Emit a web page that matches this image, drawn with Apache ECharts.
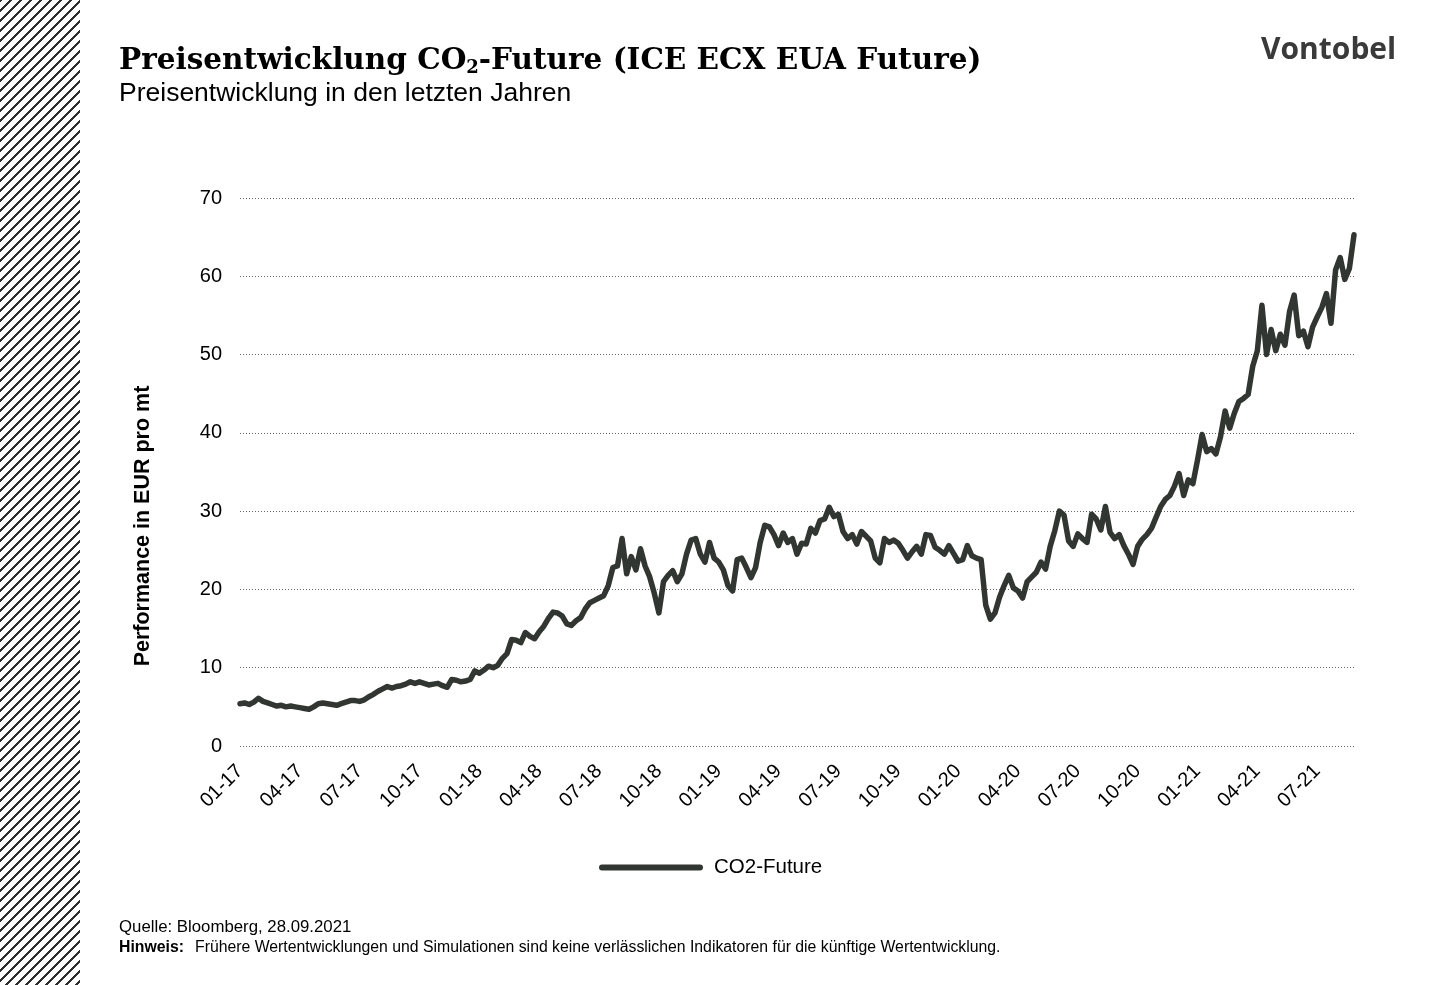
<!DOCTYPE html>
<html>
<head>
<meta charset="utf-8">
<script src="https://cdn.jsdelivr.net/npm/echarts@6/dist/echarts.min.js"></script>
<style>
  html, body { margin: 0; padding: 0; background: #fff; }
  #stripe { position: absolute; left: 0; top: 0; width: 80px; height: 985px;
    background: repeating-linear-gradient(135deg, #2e2e2e 0px, #2e2e2e 1.6px, #ffffff 1.6px, #ffffff 7.07px); }
  #chart { position: absolute; left: 0; top: 0; width: 1440px; height: 985px; }
</style>
</head>
<body>
<div id="chart"></div>
<div id="stripe"></div>
<script>
// Tick labels for the x axis (one every 13 weeks / quarter)
const tickLabels = ['01-17','04-17','07-17','10-17','01-18','04-18','07-18','10-18','01-19','04-19','07-19','10-19','01-20','04-20','07-20','10-20','01-21','04-21','07-21'];

// Weekly CO2-Future prices (EUR per t), Jan 2017 - Sep 2021
const co2Future = [
  5.4, 5.5, 5.3, 5.6, 6.1, 5.7, 5.5, 5.3, 5.1, 5.2,
  5.0, 5.1, 5.0, 4.9, 4.8, 4.7, 5.0, 5.4, 5.5, 5.4,
  5.3, 5.2, 5.4, 5.6, 5.8, 5.8, 5.7, 5.9, 6.3, 6.6,
  7.0, 7.3, 7.6, 7.4, 7.6, 7.7, 7.9, 8.2, 8.0, 8.2,
  8.0, 7.8, 7.9, 8.0, 7.7, 7.5, 8.5, 8.4, 8.2, 8.3,
  8.5, 9.6, 9.3, 9.7, 10.2, 10.0, 10.3, 11.2, 11.8, 13.6,
  13.5, 13.2, 14.5, 14.0, 13.7, 14.6, 15.3, 16.3, 17.1, 17.0,
  16.6, 15.6, 15.4, 16.0, 16.4, 17.5, 18.3, 18.6, 18.9, 19.2,
  20.5, 22.8, 23.0, 26.5, 22.0, 24.2, 22.5, 25.2, 23.0, 21.6,
  19.5, 17.0, 21.0, 21.8, 22.4, 21.0, 22.0, 24.5, 26.3, 26.5,
  24.5, 23.5, 26.0, 24.0, 23.5, 22.5, 20.5, 19.8, 23.8, 24.0,
  22.8, 21.5, 22.8, 26.0, 28.2, 28.0, 27.0, 25.6, 27.2, 26.0,
  26.5, 24.5, 25.9, 25.8, 27.8, 27.2, 28.8, 29.0, 30.5, 29.3,
  29.6, 27.4, 26.5, 27.0, 25.8, 27.4, 26.8, 26.2, 24.0, 23.4,
  26.5, 26.0, 26.3, 25.9, 25.0, 24.0, 24.8, 25.5, 24.5, 27.0,
  26.9, 25.4, 25.0, 24.5, 25.6, 24.6, 23.6, 23.8, 25.6, 24.3,
  24.0, 23.8, 18.0, 16.2, 17.0, 19.0, 20.5, 21.8, 20.2, 19.8,
  18.9, 21.0, 21.6, 22.2, 23.5, 22.6, 25.5, 27.5, 30.0, 29.5,
  26.2, 25.5, 27.1, 26.5, 26.0, 29.6, 29.0, 27.6, 30.6, 27.3,
  26.5, 27.0, 25.6, 24.5, 23.2, 25.5, 26.4, 27.0, 27.8, 29.2,
  30.6, 31.5, 32.0, 33.2, 34.8, 32.0, 34.0, 33.5, 36.5, 39.8,
  37.6, 38.0, 37.3, 39.5, 42.8, 40.6, 42.5, 44.0, 44.4, 44.9,
  48.5, 50.5, 56.3, 50.0, 53.2, 50.5, 52.6, 51.2, 55.5, 57.6,
  52.4, 53.0, 51.0, 53.5, 54.8, 56.0, 57.8, 54.0, 60.8, 62.4,
  59.6, 61.0, 65.3
];

const seriesName = 'CO2-Future';
const lineColor = '#323632';
const sans = '"Liberation Sans", Arial, sans-serif';
const serif = '"DejaVu Serif", serif';

const chart = echarts.init(document.getElementById('chart'), null, { renderer: 'canvas' });

chart.setOption({
  backgroundColor: '#ffffff',
  animation: false,
  title: {
    left: 114,
    top: 37,
    text: '{t|Preisentwicklung CO}{s|2}{t|-Future (ICE ECX EUA Future)}',
    textStyle: {
      rich: {
        t: { fontFamily: serif, fontWeight: 'bold', fontSize: 29.5, color: '#000', lineHeight: 38 },
        s: { fontFamily: serif, fontWeight: 'bold', fontSize: 18, color: '#000', lineHeight: 38, padding: [15, 0, 0, 0] }
      }
    },
    subtext: 'Preisentwicklung in den letzten Jahren',
    subtextStyle: { fontFamily: sans, fontSize: 26.5, color: '#000' },
    itemGap: 5
  },
  grid: { left: 240, right: 86, top: 198, bottom: 239, containLabel: false },
  xAxis: {
    type: 'value',
    min: 0,
    max: co2Future.length - 1,
    interval: 13,
    axisLine: { show: false },
    axisTick: { show: false },
    splitLine: { show: false },
    axisLabel: {
      rotate: 45,
      margin: 22,
      fontFamily: sans,
      fontSize: 20,
      color: '#000',
      showMaxLabel: false,
      formatter: function (v) {
        const k = v / 13;
        return Number.isInteger(k) && tickLabels[k] ? tickLabels[k] : '';
      }
    }
  },
  yAxis: {
    type: 'value',
    min: 0,
    max: 70,
    interval: 10,
    axisLine: { show: false },
    axisTick: { show: false },
    axisLabel: { margin: 18, fontFamily: sans, fontSize: 20, color: '#000' },
    splitLine: { lineStyle: { color: '#6a6a6a', width: 1, type: [1, 2] } }
  },
  legend: {
    left: 594,
    top: 852,
    data: [seriesName],
    itemWidth: 104,
    itemHeight: 6,
    icon: 'path://M3,0 L101,0 A3,3 0 0 1 101,6 L3,6 A3,3 0 0 1 3,0 Z',
    textStyle: { fontFamily: sans, fontSize: 20.5, color: '#000', padding: [0, 0, 0, 6] }
  },
  series: [{
    name: seriesName,
    type: 'line',
    data: co2Future.map((v, i) => [i, v]),
    showSymbol: false,
    symbol: 'none',
    lineStyle: { color: lineColor, width: 5.5, join: 'round', cap: 'round' },
    itemStyle: { color: lineColor }
  }],
  graphic: [
    {
      type: 'text', left: 1261, top: 35,
      style: { text: 'Vontobel', fontFamily: '"Open Sans", sans-serif', fontWeight: 700, fontSize: 30, fill: '#3a3a3a' }
    },
    {
      type: 'text', x: 143, y: 526, rotation: Math.PI / 2,
      style: { text: 'Performance in EUR pro mt', fontFamily: sans, fontWeight: 'bold', fontSize: 21.5, fill: '#000', align: 'center', verticalAlign: 'middle' }
    },
    {
      type: 'text', left: 119, top: 919,
      style: { text: 'Quelle: Bloomberg, 28.09.2021', fontFamily: sans, fontSize: 16.8, fill: '#000' }
    },
    {
      type: 'text', left: 119, top: 940,
      style: { text: 'Hinweis:', fontFamily: sans, fontWeight: 'bold', fontSize: 15.8, fill: '#000' }
    },
    {
      type: 'text', left: 195, top: 940,
      style: { text: 'Frühere Wertentwicklungen und Simulationen sind keine verlässlichen Indikatoren für die künftige Wertentwicklung.', fontFamily: sans, fontSize: 15.8, fill: '#000' }
    }
  ]
});
</script>
</body>
</html>
